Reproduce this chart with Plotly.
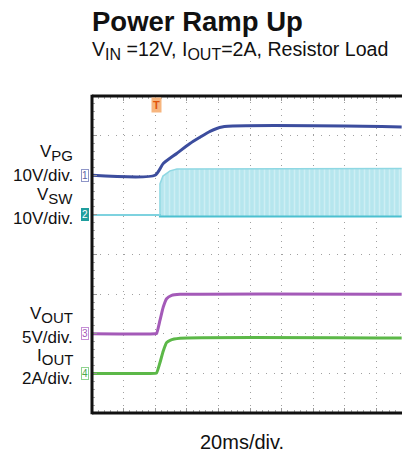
import plotly.graph_objects as go

# ---- data (time in ms, 20 ms/div) ----
vpg_t = [0, 39.9, 45.1, 53.6, 62.0, 68.4, 74.7, 82.3, 196]
vpg_v = [0, 0, 2.95, 5.5, 8.0, 9.6, 11.1, 12.2, 12.2]

vsw_t = [0, 43.0, 43.0, 44.9, 49.4, 53.8, 196]
vsw_hi = [0, 0, 7.8, 9.8, 11.1, 11.6, 11.7]
vsw_lo = [0, 0, -0.4, -0.4, -0.4, -0.4, -0.4]

vout_t = [0, 40.0, 40.9, 43.0, 45.1, 47.2, 50.4, 55.7, 196]
vout_v = [0, 0, 0.05, 1.68, 3.37, 4.42, 4.84, 4.97, 5.0]

iout_t = [0, 40.0, 40.9, 43.0, 45.1, 47.2, 49.4, 55.7, 196]
iout_a = [0, 0, 0.02, 0.535, 1.13, 1.55, 1.67, 1.77, 1.78]

trigger_t = 41

# channel: (offset in divisions, units per division)
ch_vpg = (6, 10)
ch_vsw = (5, 10)
ch_vout = (2, 5)
ch_iout = (1, 2)


def to_div(vals, ch):
    off, scale = ch
    return [off + v / scale for v in vals]


FONT = "Liberation Sans, Arial, sans-serif"
C_VPG = "#3c4d9e"
C_VSW = "#4cc0d0"
C_VOUT = "#a45ab8"
C_IOUT = "#5cb848"

fig = go.Figure()

fig.add_trace(go.Scatter(x=vsw_t, y=to_div(vsw_lo, ch_vsw), mode="lines",
                         line=dict(color=C_VSW, width=2), hoverinfo="skip"))
fig.add_trace(go.Scatter(x=vsw_t, y=to_div(vsw_hi, ch_vsw), mode="lines",
                         line=dict(color="#8fd8e3", width=1.5),
                         fill="tonexty", fillcolor="#b8e8ef",
                         fillpattern=dict(shape="|", bgcolor="#b6e6ee",
                                          fgcolor="#e4f6f9", size=5, solidity=0.3),
                         hoverinfo="skip"))
fig.add_trace(go.Scatter(x=vpg_t, y=to_div(vpg_v, ch_vpg), mode="lines",
                         line=dict(color=C_VPG, width=3, shape="spline", smoothing=0.6)))
fig.add_trace(go.Scatter(x=vout_t, y=to_div(vout_v, ch_vout), mode="lines",
                         line=dict(color=C_VOUT, width=3, shape="spline", smoothing=0.5)))
fig.add_trace(go.Scatter(x=iout_t, y=to_div(iout_a, ch_iout), mode="lines",
                         line=dict(color=C_IOUT, width=3, shape="spline", smoothing=0.5)))


def sub(s, size):
    return '<sub><span style="font-size:%dpx">%s</span></sub>' % (size, s)


ann = []
labels = [
    ("V" + sub("PG", 15), 153), ("10V/div.", 175),
    ("V" + sub("SW", 15), 196), ("10V/div.", 218),
    ("V" + sub("OUT", 15), 315), ("5V/div.", 337),
    ("I" + sub("OUT", 15), 357), ("2A/div.", 378),
]
for txt, py in labels:
    ann.append(dict(text=txt, xref="paper", yref="paper", x=(75 - 92) / 310,
                    y=(413 - py) / 317, xanchor="right", yanchor="middle",
                    showarrow=False, font=dict(family=FONT, size=17, color="#111")))

markers = [
    ("1", ch_vpg[0], "white", "#8f96c8", "#5c64a8"),
    ("2", ch_vsw[0], "#1f9e9e", "#1f9e9e", "white"),
    ("3", ch_vout[0], "white", "#c58fd6", "#a45ab8"),
    ("4", ch_iout[0], "white", "#8fd38f", "#4aa84a"),
]
for txt, off, bg, bc, fc in markers:
    ann.append(dict(text=txt, xref="paper", yref="y", x=(85 - 92) / 310, y=off,
                    xanchor="center", yanchor="middle", showarrow=False,
                    bgcolor=bg, bordercolor=bc, borderwidth=1, borderpad=0,
                    font=dict(family=FONT, size=10, color=fc)))

ann.append(dict(text="<b>T</b>", xref="x", yref="paper", x=trigger_t,
                y=(413 - 105) / 317, xanchor="center", yanchor="middle",
                showarrow=False, bgcolor="#f7b57e", borderpad=1,
                font=dict(family=FONT, size=11, color="#e0540c")))

ann.append(dict(text="<b>Power Ramp Up</b>", xref="paper", yref="paper",
                x=(90 - 92) / 310, y=(413 - 22) / 317, xanchor="left", yanchor="middle",
                showarrow=False, font=dict(family=FONT, size=27.5, color="#111")))
ann.append(dict(text="V" + sub("IN", 16) + " =12V, I" + sub("OUT", 16) + "=2A, Resistor Load",
                xref="paper", yref="paper", x=(90 - 92) / 310, y=(413 - 50) / 317,
                xanchor="left", yanchor="middle", showarrow=False,
                font=dict(family=FONT, size=19.6, color="#111")))
ann.append(dict(text="20ms/div.", xref="paper", yref="paper", x=(242 - 92) / 310,
                y=(413 - 442) / 317, xanchor="center", yanchor="middle",
                showarrow=False, font=dict(family=FONT, size=20, color="#111")))

shapes = [
    dict(type="line", xref="paper", yref="paper", x0=0, x1=0, y0=-0.004, y1=1.004,
         line=dict(color="#111", width=3)),
    dict(type="line", xref="paper", yref="paper", x0=0, x1=1.02, y0=1, y1=1,
         line=dict(color="#111", width=3)),
    dict(type="line", xref="paper", yref="paper", x0=0, x1=1.02, y0=0, y1=0,
         line=dict(color="#111", width=3)),
]

fig.update_layout(
    width=402, height=456,
    margin=dict(l=92, r=0, t=96, b=43),
    paper_bgcolor="white", plot_bgcolor="white",
    showlegend=False,
    annotations=ann, shapes=shapes,
    xaxis=dict(range=[0, 310 / 31.6 * 20], dtick=20, tick0=0, showticklabels=False,
               showgrid=True, gridcolor="#a0a0a0", gridwidth=1, griddash="1px,5.3px",
               zeroline=False, showline=False, ticks="inside", ticklen=5,
               tickcolor="#999", mirror="ticks",
               minor=dict(dtick=4, ticks="inside", ticklen=3, tickcolor="#aaa",
                          showgrid=False)),
    yaxis=dict(range=[0, 8], dtick=1, tick0=0, showticklabels=False,
               showgrid=True, gridcolor="#a0a0a0", gridwidth=1, griddash="1px,6.9px",
               zeroline=False, showline=False, ticks="inside", ticklen=5,
               tickcolor="#999",
               minor=dict(dtick=0.2, ticks="inside", ticklen=3, tickcolor="#aaa",
                          showgrid=False)),
)

fig.write_html("out.html", config={"displayModeBar": False},
               post_script="document.body.style.margin='0';")
